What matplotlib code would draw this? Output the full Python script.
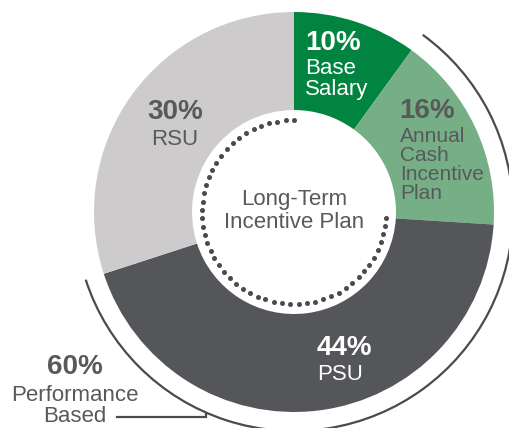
import numpy as np
import matplotlib
matplotlib.use("Agg")
import matplotlib.pyplot as plt
from matplotlib.patches import Arc

plt.rcParams['font.family'] = ['Liberation Sans', 'DejaVu Sans']

# ---- data ----
categories = ["Base Salary", "Annual Cash Incentive Plan", "PSU", "RSU"]
values = [10, 16, 44, 30]
pct_labels = ["10%", "16%", "44%", "30%"]
name_labels = [["Base", "Salary"], ["Annual", "Cash", "Incentive", "Plan"], ["PSU"], ["RSU"]]
colors = ["#00843F", "#76AE86", "#55565A", "#CDCBCC"]
performance_pct = "60%"
performance_lines = ["Performance", "Based"]
center_lines = ["Long-Term", "Incentive Plan"]

W, H = 509, 428
fig = plt.figure(figsize=(W / 100, H / 100), dpi=100)
ax = fig.add_axes([0, 0, 1, 1])

def py(y):
    return H - y

cx, cy = 294, py(212)
R, r_in = 200, 102

ax.pie(values, colors=colors, startangle=90, counterclock=False,
       center=(cx, cy), radius=R,
       wedgeprops=dict(width=R - r_in, linewidth=0))

ax.set_xlim(0, W)
ax.set_ylim(0, H)
ax.set_aspect('equal')
ax.axis('off')

txt = "#58595B"
line_col = "#4A4A4F"

# dotted arc for Long-Term Incentive Plan (RSU + PSU share)
lti_share = values[2] + values[3]
span = lti_share / 100 * 360
n = 52
ang = np.deg2rad(np.linspace(90, 90 + span, n))
rd = 92
ax.plot(cx + rd * np.cos(ang), cy + rd * np.sin(ang), 'o', color=line_col,
        markersize=3.6, markeredgewidth=0)

# outer arc for performance based (Annual Cash + PSU)
start = 90 - values[0] / 100 * 360
end_ = start - (values[1] + values[2]) / 100 * 360
ra = 219
ax.add_patch(Arc((cx, cy), 2 * ra, 2 * ra, theta1=end_ + 360, theta2=start + 360,
                 color=line_col, linewidth=1.6))
xc = 206
yc_arc = cy - np.sqrt(ra ** 2 - (xc - cx) ** 2)
ax.plot([xc, xc, 117], [yc_arc, py(417), py(417)], color=line_col, linewidth=1.6,
        solid_joinstyle='miter')

PF, NF = 20, 16

def lines(x, baselines, strs, color, ha, size=NF, weight='normal'):
    for b, s in zip(baselines, strs):
        ax.text(x, py(b), s, color=color, fontsize=size, fontweight=weight,
                ha=ha, va='baseline')

# Base Salary
lines(305, [50], [pct_labels[0]], "white", 'left', PF, 'bold')
lines(305, [74, 95], name_labels[0], "white", 'left')
# Annual Cash
lines(399, [118], [pct_labels[1]], txt, 'left', PF, 'bold')
lines(400, [142, 161, 180, 199], name_labels[1], txt, 'left', 15)
# PSU
lines(317, [355], [pct_labels[2]], "white", 'left', PF, 'bold')
lines(317, [380], name_labels[2], "white", 'left')
# RSU
lines(175, [119], [pct_labels[3]], txt, 'center', PF, 'bold')
lines(175, [145], name_labels[3], txt, 'center')
# center
lines(294, [205, 228], center_lines, txt, 'center')
# performance based
lines(75, [374], [performance_pct], txt, 'center', PF, 'bold')
lines(75, [401, 422], performance_lines, txt, 'center')

fig.savefig("out.png", dpi=100)
